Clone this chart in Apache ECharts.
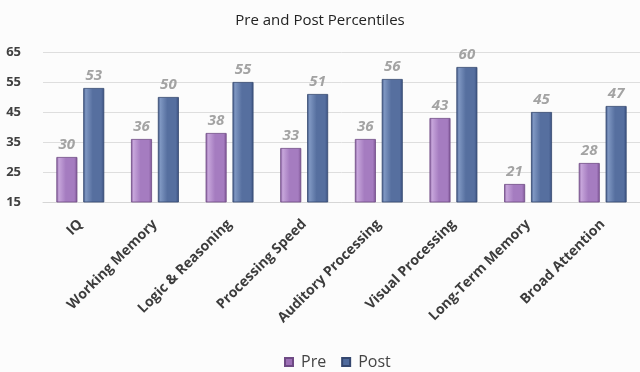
<!DOCTYPE html>
<html>
<head>
<meta charset="utf-8">
<script src="https://cdn.jsdelivr.net/npm/echarts@6/dist/echarts.min.js"></script>
<style>
  html, body { margin: 0; padding: 0; background: #fcfcfc; }
  #chart { width: 640px; height: 372px; }
</style>
</head>
<body>
<div id="chart"></div>
<script>
// Percentile scores before and after, per cognitive skill
const categories = ['IQ', 'Working Memory', 'Logic & Reasoning', 'Processing Speed',
  'Auditory Processing', 'Visual Processing', 'Long-Term Memory', 'Broad Attention'];
const preValues = [30, 36, 38, 33, 36, 43, 21, 28];
const postValues = [53, 50, 55, 51, 56, 60, 45, 47];
const yTicks = [15, 25, 35, 45, 55, 65];

const font = '"Open Sans", "DejaVu Sans", sans-serif';

function bevel(edge, mid, light) {
  return new echarts.graphic.LinearGradient(0, 0, 1, 0, [
    { offset: 0, color: edge },
    { offset: 0.12, color: light },
    { offset: 0.45, color: mid },
    { offset: 0.85, color: mid },
    { offset: 1, color: edge }
  ]);
}

const labelStyle = {
  show: true,
  position: 'top',
  distance: 5,
  color: '#a3a3a3',
  fontStyle: 'italic',
  fontWeight: 'bold',
  fontSize: 15,
  fontFamily: font
};

const chart = echarts.init(document.getElementById('chart'), null, { renderer: 'canvas' });
chart.setOption({
  backgroundColor: '#fcfcfc',
  animation: false,
  title: {
    text: 'Pre and Post Percentiles',
    left: 'center',
    top: 8,
    textStyle: { fontFamily: font, fontSize: 15, fontWeight: 'normal', color: '#222' }
  },
  legend: {
    top: 349,
    left: 279,
    itemWidth: 8,
    itemHeight: 8,
    itemGap: 15,
    icon: 'rect',
    textStyle: { fontFamily: font, fontSize: 16, color: '#444', padding: [0, 0, 0, 3] },
    data: [
      { name: 'Pre', itemStyle: { color: '#9c6fb5' } },
      { name: 'Post', itemStyle: { color: '#4f6a9c' } }
    ]
  },
  grid: { left: 43, right: -4, top: 52, height: 150 },
  xAxis: {
    type: 'category',
    data: categories,
    axisTick: { show: false },
    axisLine: { show: true, lineStyle: { color: '#d6d6d6' } },
    axisLabel: {
      rotate: 45,
      margin: 20,
      color: '#3c3c3c',
      fontWeight: 'bold',
      fontSize: 14,
      fontFamily: font,
      interval: 0
    }
  },
  yAxis: {
    type: 'value',
    min: yTicks[0],
    max: yTicks[yTicks.length - 1],
    interval: 10,
    axisLine: { show: false },
    axisTick: { show: false },
    splitLine: { lineStyle: { color: '#dedede' } },
    axisLabel: {
      margin: 22,
      color: '#404040',
      fontWeight: 'bold',
      fontSize: 13,
      fontFamily: font
    }
  },
  series: [
    {
      name: 'Pre',
      type: 'bar',
      data: preValues,
      barWidth: 21,
      barGap: '28%',
      itemStyle: {
        color: bevel('#7d5494', '#a57cc0', '#c7a6db'),
        borderColor: '#6e4a84',
        borderWidth: 0.8
      },
      label: labelStyle
    },
    {
      name: 'Post',
      type: 'bar',
      data: postValues,
      barWidth: 21,
      itemStyle: {
        color: bevel('#3a5080', '#566f9f', '#7f97c2'),
        borderColor: '#34476f',
        borderWidth: 0.8
      },
      label: labelStyle
    }
  ]
});
</script>
</body>
</html>
